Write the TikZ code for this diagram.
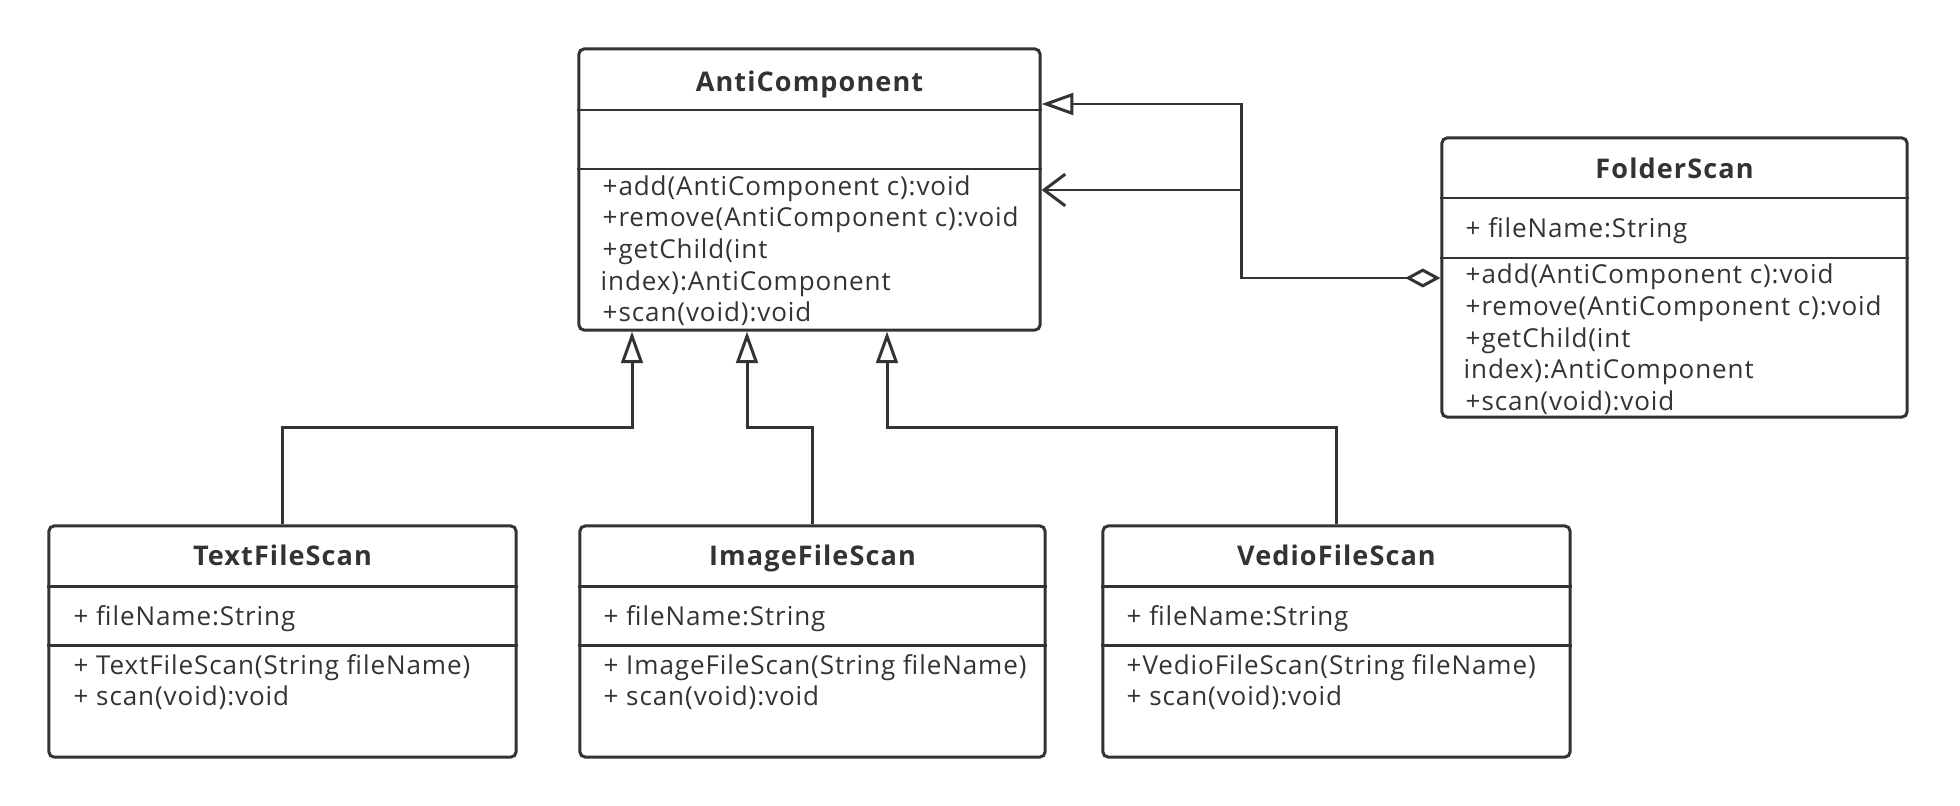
\documentclass[tikz,border=0pt]{standalone}
\usepackage{fontspec}
\setmainfont{Open Sans}
\usetikzlibrary{arrows.meta}
\definecolor{umlgray}{HTML}{333333}

\tikzset{
  classbox/.style={draw=umlgray, line width=0.85pt, rounded corners=1.5pt, inner sep=0pt},
  classline/.style={draw=umlgray, line width=0.85pt},
  classname/.style={anchor=base, inner sep=0pt, text=umlgray, font=\bfseries\fontsize{7.7}{9}\selectfont\addfontfeatures{LetterSpace=4}},
  member/.style={anchor=base west, inner sep=0pt, text=umlgray, font=\fontsize{7.4}{8.8}\selectfont\addfontfeatures{LetterSpace=3.5}},
  inherit/.style={classline, -{Triangle[open, length=9pt, width=6.2pt]}},
  aggregate/.style={classline, {Diamond[open, length=10pt, width=5.4pt]}-{Straight Barb[length=6pt, width=9pt]}}
}

\begin{document}
\begin{tikzpicture}[x=0.01cm, y=-0.01cm]
\useasboundingbox (0,0) rectangle (1960,806);

% AntiComponent
\node[classbox, minimum width=4.61cm, minimum height=2.81cm] (anti) at (809.5,189.5) {};
\draw[classline] (anti.west |- 0,110) -- (anti.east |- 0,110);
\draw[classline] (anti.west |- 0,169) -- (anti.east |- 0,169);
\node[classname] (anti-name) at (anti.north |- 0,91) {AntiComponent};
\node[member] (anti-m1) at (602,195) {+add(AntiComponent c):void};
\node[member] (anti-m2) at (602,226.5) {+remove(AntiComponent c):void};
\node[member] (anti-m3) at (602,258) {+getChild(int};
\node[member] (anti-m4) at (600,290) {index):AntiComponent};
\node[member] (anti-m5) at (602,321.5) {+scan(void):void};

% FolderScan
\node[classbox, minimum width=4.65cm, minimum height=2.79cm] (folder) at (1674.5,277.5) {};
\draw[classline] (folder.west |- 0,198) -- (folder.east |- 0,198);
\draw[classline] (folder.west |- 0,258) -- (folder.east |- 0,258);
\node[classname] (folder-name) at (folder.north |- 0,178) {FolderScan};
\node[member] (folder-a1) at (1465,237) {+ fileName:String};
\node[member] (folder-m1) at (1465,283) {+add(AntiComponent c):void};
\node[member] (folder-m2) at (1465,315) {+remove(AntiComponent c):void};
\node[member] (folder-m3) at (1465,347) {+getChild(int};
\node[member] (folder-m4) at (1463,378) {index):AntiComponent};
\node[member] (folder-m5) at (1465,410) {+scan(void):void};

% TextFileScan
\node[classbox, minimum width=4.67cm, minimum height=2.31cm] (textscan) at (282.5,641.5) {};
\draw[classline] (textscan.west |- 0,586) -- (textscan.east |- 0,586);
\draw[classline] (textscan.west |- 0,645) -- (textscan.east |- 0,645);
\node[classname] (textscan-name) at (textscan.north |- 0,565) {TextFileScan};
\node[member] (textscan-a1) at (73,625) {+ fileName:String};
\node[member] (textscan-m1) at (73,674) {+ TextFileScan(String fileName)};
\node[member] (textscan-m2) at (73,705.5) {+ scan(void):void};

% ImageFileScan
\node[classbox, minimum width=4.65cm, minimum height=2.31cm] (imagescan) at (812.5,641.5) {};
\draw[classline] (imagescan.west |- 0,586) -- (imagescan.east |- 0,586);
\draw[classline] (imagescan.west |- 0,645) -- (imagescan.east |- 0,645);
\node[classname] (imagescan-name) at (imagescan.north |- 0,565) {ImageFileScan};
\node[member] (imagescan-a1) at (603,625) {+ fileName:String};
\node[member] (imagescan-m1) at (603,674) {+ ImageFileScan(String fileName)};
\node[member] (imagescan-m2) at (603,705.5) {+ scan(void):void};

% VedioFileScan
\node[classbox, minimum width=4.67cm, minimum height=2.31cm] (vedioscan) at (1336.5,641.5) {};
\draw[classline] (vedioscan.west |- 0,586) -- (vedioscan.east |- 0,586);
\draw[classline] (vedioscan.west |- 0,645) -- (vedioscan.east |- 0,645);
\node[classname] (vedioscan-name) at (vedioscan.north |- 0,565) {VedioFileScan};
\node[member] (vedioscan-a1) at (1126,625) {+ fileName:String};
\node[member] (vedioscan-m1) at (1126,674) {+VedioFileScan(String fileName)};
\node[member] (vedioscan-m2) at (1126,705.5) {+ scan(void):void};

% generalisation from below
\draw[inherit] (textscan.north) |- (632,427.5) -- (anti.south -| 632,0);
\draw[inherit] (imagescan.north) |- (747,427.5) -- (anti.south -| 747,0);
\draw[inherit] (vedioscan.north) |- (887,427.5) -- (anti.south -| 887,0);

% FolderScan links
\coordinate (fjoin) at (1241,278);
\draw[aggregate] (folder.west |- fjoin) -- (fjoin) |- (anti.east |- 0,190);
\draw[inherit] (fjoin |- 0,190) |- (anti.east |- 0,104);

\end{tikzpicture}
\end{document}
